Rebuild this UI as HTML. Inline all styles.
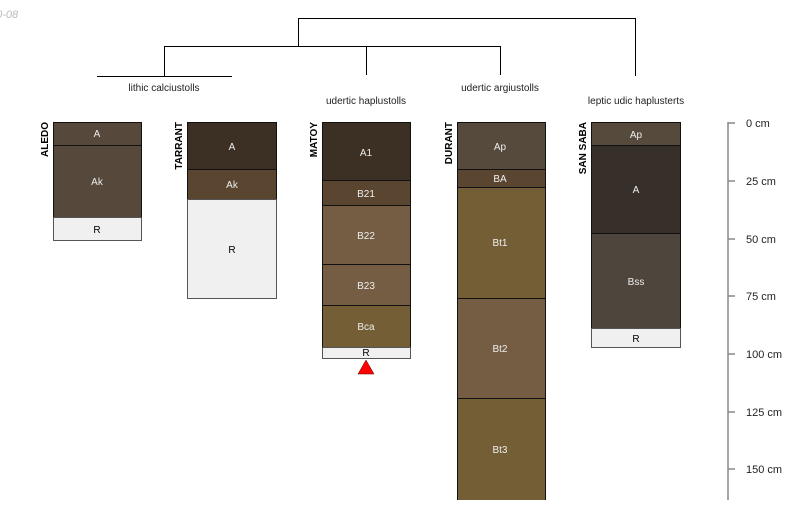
<!DOCTYPE html>
<html><head><meta charset="utf-8"><style>body{margin:0;background:#fff}</style></head><body>
<svg width="800" height="500" xmlns="http://www.w3.org/2000/svg" font-family="Liberation Sans, sans-serif">
<rect width="800" height="500" fill="#fff"/>
<text x="-10" y="18" font-size="11" font-style="italic" fill="#bbb">10-08</text>
<g stroke="#000" stroke-width="1" fill="none">
<path d="M298.5 46V18.5H635.5V76"/>
<path d="M164.5 76V46.5H500.5V75"/>
<path d="M366.5 46V75"/>
<path d="M97 76.5H232"/>
</g>
<g font-size="10" fill="#222" text-anchor="middle">
<text x="164" y="91">lithic calciustolls</text>
<text x="366" y="104">udertic haplustolls</text>
<text x="500" y="91">udertic argiustolls</text>
<text x="636" y="104">leptic udic haplusterts</text>
</g>
<g stroke="#111" stroke-width="1">
<rect x="53.5" y="122.5" width="88" height="23" fill="#56483a"/>
<rect x="53.5" y="145.5" width="88" height="72" fill="#56483a"/>
<rect x="53.5" y="217.5" width="88" height="23" fill="#f0f0f0" stroke="#555"/>
<rect x="187.5" y="122.5" width="89" height="47" fill="#3c2f23"/>
<rect x="187.5" y="169.5" width="89" height="30" fill="#5a4630"/>
<rect x="187.5" y="199.5" width="89" height="99" fill="#f0f0f0" stroke="#555"/>
<rect x="322.5" y="122.5" width="88" height="58" fill="#3c2f23"/>
<rect x="322.5" y="180.5" width="88" height="25" fill="#5a4630"/>
<rect x="322.5" y="205.5" width="88" height="59" fill="#745d42"/>
<rect x="322.5" y="264.5" width="88" height="41" fill="#745d42"/>
<rect x="322.5" y="305.5" width="88" height="42" fill="#735e36"/>
<rect x="322.5" y="347.5" width="88" height="11" fill="#f0f0f0" stroke="#555"/>
<rect x="457.5" y="122.5" width="88" height="47" fill="#564a3c"/>
<rect x="457.5" y="169.5" width="88" height="18" fill="#5a4630"/>
<rect x="457.5" y="187.5" width="88" height="111" fill="#735e36"/>
<rect x="457.5" y="298.5" width="88" height="100" fill="#745d42"/>
<rect x="457.5" y="398.5" width="88" height="102" fill="#735e36"/>
<rect x="591.5" y="122.5" width="89" height="23" fill="#564a3c"/>
<rect x="591.5" y="145.5" width="89" height="88" fill="#37302a"/>
<rect x="591.5" y="233.5" width="89" height="95" fill="#4e463c"/>
<rect x="591.5" y="328.5" width="89" height="19" fill="#f0f0f0" stroke="#555"/>
</g>
<polygon points="366,360 358,374 374,374" fill="#f00" stroke="#600" stroke-width="0.5"/>
<g font-size="10" text-anchor="middle" fill="#eee">
<text x="97" y="137">A</text><text x="97" y="185">Ak</text><text x="97" y="233" fill="#000">R</text>
<text x="232" y="150">A</text><text x="232" y="188">Ak</text><text x="232" y="253" fill="#000">R</text>
<text x="366" y="156">A1</text><text x="366" y="197">B21</text><text x="366" y="239">B22</text><text x="366" y="289">B23</text><text x="366" y="330">Bca</text><text x="366" y="356" fill="#000">R</text>
<text x="500" y="150">Ap</text><text x="500" y="182">BA</text><text x="500" y="246">Bt1</text><text x="500" y="352">Bt2</text><text x="500" y="453">Bt3</text>
<text x="636" y="138">Ap</text><text x="636" y="193">A</text><text x="636" y="285">Bss</text><text x="636" y="342" fill="#000">R</text>
</g>
<g font-size="10" font-weight="bold" fill="#000">
<text transform="translate(48,122) rotate(-90)" text-anchor="end">ALEDO</text>
<text transform="translate(182,122) rotate(-90)" text-anchor="end">TARRANT</text>
<text transform="translate(317,122) rotate(-90)" text-anchor="end">MATOY</text>
<text transform="translate(452,122) rotate(-90)" text-anchor="end">DURANT</text>
<text transform="translate(586,122) rotate(-90)" text-anchor="end">SAN SABA</text>
</g>
<g stroke="#888" stroke-width="1.5">
<line x1="728" y1="122" x2="728" y2="500"/>
<line x1="728" y1="123" x2="735" y2="123"/>
<line x1="728" y1="181" x2="735" y2="181"/>
<line x1="728" y1="239" x2="735" y2="239"/>
<line x1="728" y1="296" x2="735" y2="296"/>
<line x1="728" y1="354" x2="735" y2="354"/>
<line x1="728" y1="412" x2="735" y2="412"/>
<line x1="728" y1="469" x2="735" y2="469"/>
</g>
<g font-size="11" fill="#222">
<text x="746" y="127">0 cm</text><text x="746" y="185">25 cm</text><text x="746" y="243">50 cm</text><text x="746" y="300">75 cm</text><text x="746" y="358">100 cm</text><text x="746" y="416">125 cm</text><text x="746" y="473">150 cm</text>
</g>
</svg>
</body></html>
